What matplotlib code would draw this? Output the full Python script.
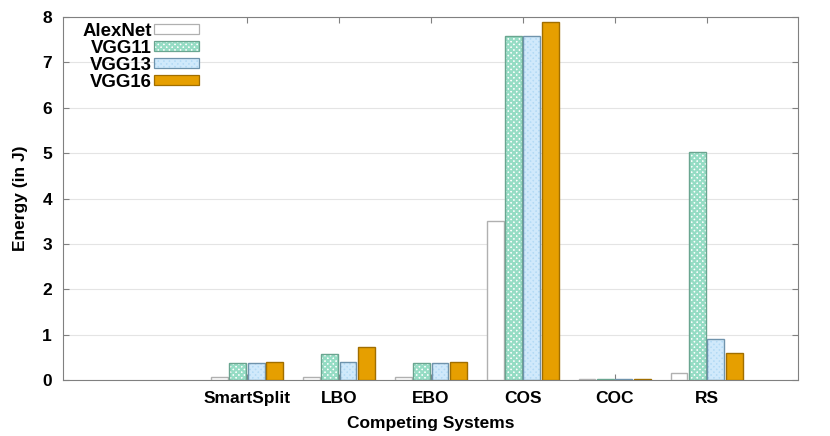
import numpy as np
import matplotlib.pyplot as plt
from matplotlib.patches import Patch
from matplotlib.legend_handler import HandlerTuple

plt.rcParams['font.family'] = ['Liberation Sans', 'DejaVu Sans']
plt.rcParams['font.weight'] = 'bold'
plt.rcParams['hatch.linewidth'] = 1.6

systems = ["SmartSplit", "LBO", "EBO", "COS", "COC", "RS"]
models = ["AlexNet", "VGG11", "VGG13", "VGG16"]
alexnet = [0.06, 0.06, 0.06, 3.50, 0.02, 0.15]
vgg11 = [0.37, 0.57, 0.37, 7.58, 0.02, 5.02]
vgg13 = [0.37, 0.40, 0.37, 7.58, 0.02, 0.90]
vgg16 = [0.40, 0.73, 0.40, 7.90, 0.02, 0.59]

# face, hatch colour, hatch, edge
styles = [
    ("white", None, None, "#b0b0b0"),
    ("#ffffff", "#95dcc4", "xxxxxx", "#6aa590"),
    ("#b3daf5", "#d0e9fb", "xxxxxx", "#6f93ac"),
    ("#e69f00", None, None, "#a06e00"),
]

fig, ax = plt.subplots(figsize=(8.3, 4.36), dpi=100)
fig.subplots_adjust(left=0.076, right=0.962, top=0.961, bottom=0.128)

FS = 12.5
x = np.arange(len(systems)) + 2
w = 0.2
for i, (vals, (fc, hc, hatch, ec)) in enumerate(zip([alexnet, vgg11, vgg13, vgg16], styles)):
    pos = x + (i - 1.5) * w
    if hatch:
        ax.bar(pos, vals, w * 0.92, color=fc, edgecolor=hc, hatch=hatch, linewidth=0, zorder=2)
    ax.bar(pos, vals, w * 0.92, color=fc if not hatch else "none", edgecolor=ec, linewidth=1.0, zorder=3)

# legend handles: hatched fill + outline overlaid
proxies = []
for fc, hc, hatch, ec in styles:
    outline = Patch(facecolor="none" if hatch else fc, edgecolor=ec, linewidth=0.9)
    if hatch:
        fill = Patch(facecolor=fc, edgecolor=hc, hatch=hatch, linewidth=0)
        proxies.append((fill, outline))
    else:
        proxies.append(outline)
leg = ax.legend(proxies, models, loc="upper right", frameon=False, markerfirst=False,
                fontsize=13.4, handlelength=2.4, handleheight=0.45, labelspacing=0.0,
                borderaxespad=0, borderpad=0.2, handletextpad=0.15,
                bbox_to_anchor=(0.19, 0.994), handler_map={tuple: HandlerTuple(ndivide=1)})
for t in leg.get_texts():
    t.set_fontweight("bold")
leg._legend_box.align = "right"

ax.set_xlim(0, 8)
ax.set_ylim(0, 8)
ax.set_xticks(x)
ax.set_xticklabels(systems, fontsize=FS, fontweight="bold")
ax.set_yticks(range(9))
ax.tick_params(axis="y", labelsize=FS, direction="in", right=True, length=4, color="#808080", pad=8)
ax.tick_params(axis="x", direction="in", top=True, length=4, color="#808080", pad=8)
for lab in ax.get_yticklabels():
    lab.set_fontweight("bold")
ax.yaxis.grid(True, color="#e4e4e4", linewidth=0.8, zorder=0)
ax.set_axisbelow(True)
for s in ax.spines.values():
    s.set_color("#808080")
ax.set_ylabel("Energy (in J)", fontsize=FS, fontweight="bold", labelpad=10)
ax.set_xlabel("Competing Systems", fontsize=FS, fontweight="bold", labelpad=7)

fig.savefig("out.png", dpi=100)
